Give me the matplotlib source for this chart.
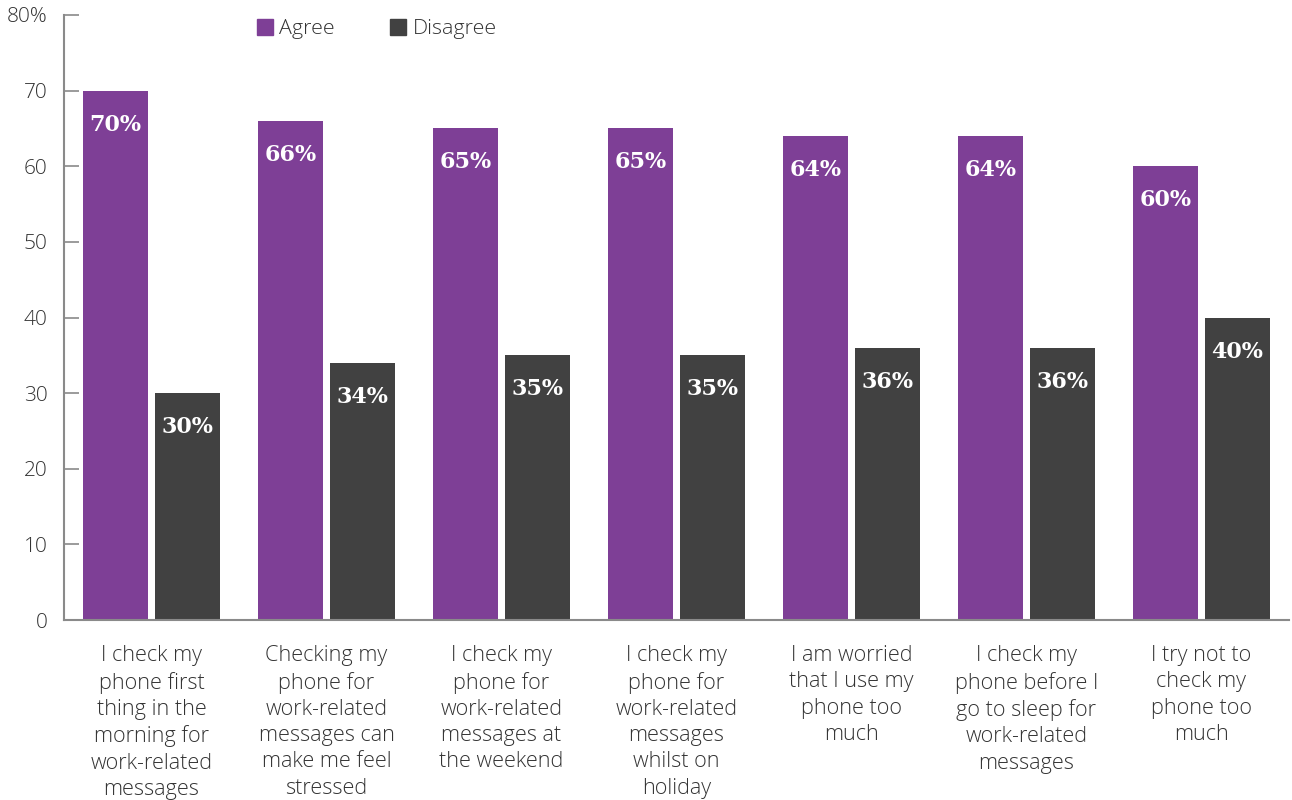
import matplotlib
matplotlib.use("Agg")
import matplotlib.pyplot as plt
import numpy as np
from matplotlib.patches import Patch

categories = [
    "I check my\nphone first\nthing in the\nmorning for\nwork-related\nmessages",
    "Checking my\nphone for\nwork-related\nmessages can\nmake me feel\nstressed",
    "I check my\nphone for\nwork-related\nmessages at\nthe weekend",
    "I check my\nphone for\nwork-related\nmessages\nwhilst on\nholiday",
    "I am worried\nthat I use my\nphone too\nmuch",
    "I check my\nphone before I\ngo to sleep for\nwork-related\nmessages",
    "I try not to\ncheck my\nphone too\nmuch",
]
agree = [70, 66, 65, 65, 64, 64, 60]
disagree = [30, 34, 35, 35, 36, 36, 40]
yticks = [0, 10, 20, 30, 40, 50, 60, 70, 80]
ytick_labels = ["0", "10", "20", "30", "40", "50", "60", "70", "80%"]

PURPLE = "#7E3F96"
DARK = "#414141"
AXIS = "#8a8a8a"
TEXT = "#333333"
plt.rcParams['font.family'] = ['Open Sans', 'DejaVu Sans']

fig = plt.figure(figsize=(12.92, 8.0), dpi=100)
ax = fig.add_axes([64/1292, 1-620/800, 1225/1292, 605/800])

x = np.arange(len(categories))
w = 65/175
off = 36/175
b1 = ax.bar(x - off, agree, w, color=PURPLE)
b2 = ax.bar(x + off, disagree, w, color=DARK)

for bars, vals in ((b1, agree), (b2, disagree)):
    for r, v in zip(bars, vals):
        ax.annotate(f"{v}%", (r.get_x() + r.get_width()/2, v), xytext=(0, -34),
                    textcoords="offset pixels", ha="center", va="center",
                    color="white", fontsize=16, fontweight="bold",
                    family="DejaVu Serif")

ax.set_xlim(-0.5, len(categories) - 0.5)
ax.set_ylim(0, 80)
ax.set_yticks(yticks)
ax.set_yticklabels(ytick_labels, fontsize=15, color=TEXT, fontweight="light")
ax.set_xticks(x)
ax.set_xticklabels(categories, fontsize=15.6, color=TEXT, fontweight="light",
                   linespacing=1.33, va="top")
ax.tick_params(axis="x", length=0, pad=18)
ax.tick_params(axis="y", direction="in", length=11, width=1.2, color=AXIS, pad=12)
for s in ("top", "right"):
    ax.spines[s].set_visible(False)
for s in ("left", "bottom"):
    ax.spines[s].set_color(AXIS)
    ax.spines[s].set_linewidth(1.5)

handles = [Patch(color=PURPLE, label="Agree"), Patch(color=DARK, label="Disagree")]
leg = fig.legend(handles=handles, loc="center left", bbox_to_anchor=(257/1292, 1-29/800),
                 ncol=2, frameon=False, fontsize=15.4, handlelength=0.75, handleheight=0.75,
                 handletextpad=0.3, columnspacing=2.58, borderaxespad=0, borderpad=0)
for t in leg.get_texts():
    t.set_color(TEXT)
    t.set_fontweight("light")

fig.savefig("out.png", dpi=100)
